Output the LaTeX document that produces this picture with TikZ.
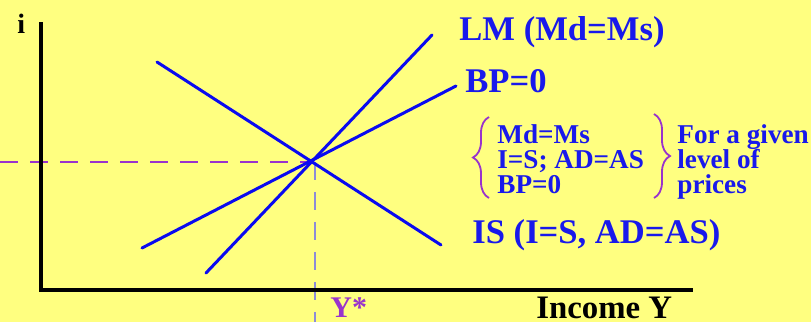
\documentclass[tikz,border=0pt]{standalone}
\usepackage{fontspec}
\setmainfont{Liberation Serif}
\usetikzlibrary{decorations.pathreplacing}
\definecolor{mybg}{RGB}{255,255,128}
\definecolor{myblue}{RGB}{10,10,240}
\definecolor{mytext}{RGB}{25,25,235}
\definecolor{mypurple}{RGB}{153,51,204}
\definecolor{mygrey}{RGB}{140,140,215}
\tikzset{
  axis/.style={line width=2pt, color=black},
  curve/.style={line width=1.5pt, color=myblue, line cap=round},
  guide/.style={line width=1pt, dash pattern=on 9pt off 6pt},
  lbl/.style={anchor=base west, inner sep=0pt, text=mytext,
    font=\fontsize{17.3}{20}\selectfont\bfseries},
  cond/.style={anchor=base west, inner sep=0pt, text=mytext,
    font=\fontsize{13.6}{14}\selectfont\bfseries},
  axlbl/.style={anchor=base west, inner sep=0pt,
    font=\fontsize{16.4}{19}\selectfont\bfseries},
  bracer/.style={decorate, decoration={brace, amplitude=8pt},
    line width=0.9pt, color=mypurple}
}
\begin{document}
\begin{tikzpicture}[x=0.5pt, y=-0.5pt]
  \fill[mybg] (0,0) rectangle (811,322);
  \useasboundingbox (0,0) rectangle (811,322);

  % Equilibrium and guides
  \coordinate (E) at (313,162);
  \coordinate (Ey) at (315,322);
  \coordinate (Ei) at (0,162);
  \draw[guide, mypurple] (Ei) -- (E);
  \draw[guide, mygrey] (E -| Ey) -- (Ey);

  % Axes
  \coordinate (O) at (41,290);
  \draw[axis] (41,22) -- (O) -- (693,290);
  \node[axlbl, font=\fontsize{14}{16}\selectfont\bfseries] (i) at (17,33) {i};
  \node[axlbl] (inc) at (536,318) {Income Y};
  \node[axlbl, text=mypurple, font=\fontsize{15}{17}\selectfont\bfseries] (ystar) at (330,317) {Y*};

  % Curves
  \coordinate (lm1) at (206,273);
  \coordinate (lm2) at (432,35);
  \coordinate (bp1) at (142,248);
  \coordinate (bp2) at (456,86);
  \coordinate (is1) at (157,62);
  \coordinate (is2) at (441,245);
  \draw[curve] (lm1) -- (lm2);
  \draw[curve] (bp1) -- (bp2);
  \draw[curve] (is1) -- (is2);
  \node[lbl] (lm) at (459,40) {LM (Md=Ms)};
  \node[lbl] (bp) at (465,92) {BP=0};
  \node[lbl] (is) at (472,243) {IS (I=S, AD=AS)};

  % Conditions
  \node[cond] (c1) at (497,143) {Md=Ms};
  \node[cond] (c2) at (497,168) {I=S; AD=AS};
  \node[cond] (c3) at (497,193) {BP=0};
  \node[cond] (p1) at (677,143) {For a given};
  \node[cond] (p2) at (677,168) {level of};
  \node[cond] (p3) at (677,193) {prices};
  \draw[bracer] (489,198) -- (489,117);
  \draw[bracer] (654,114) -- (654,198);
\end{tikzpicture}
\end{document}
